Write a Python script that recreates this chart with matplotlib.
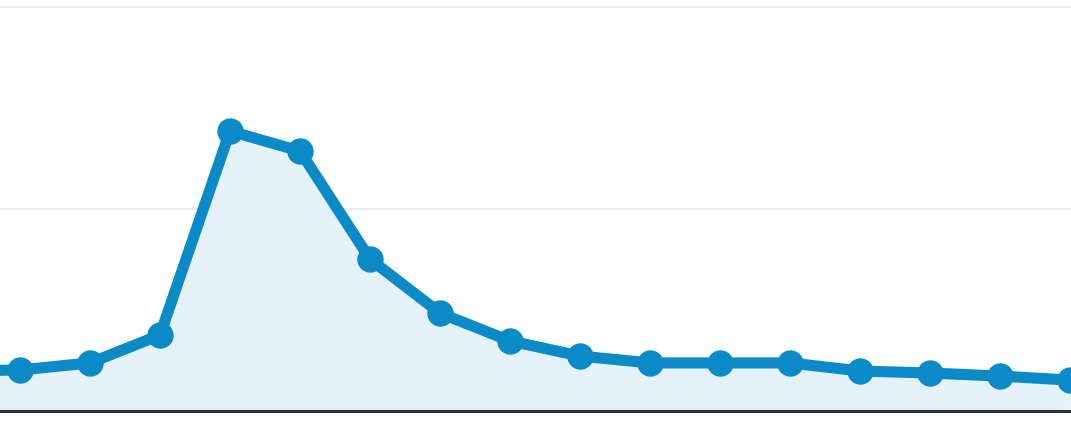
import matplotlib.pyplot as plt
import numpy as np

# data (first point sits just outside the left edge)
idx = np.arange(-1, 16)
visits = [19.8, 20.3, 23.8, 37.6, 138.6, 128.7, 75.2, 48.5, 34.7, 27.2,
          23.8, 23.8, 23.8, 19.8, 18.8, 17.3, 15.3]
grid_vals = [100, 200]

line_col = "#0a8bc8"
fill_col = "#e5f2f9"

fig = plt.figure(figsize=(10.71, 4.23), dpi=100)
ax = fig.add_axes([0, 0, 1, 1])

for g in grid_vals:
    ax.axhline(g, color="#ececec", lw=1.6, zorder=0)

ax.fill_between(idx, visits, 0, color=fill_col, zorder=1)
ax.plot(idx, visits, color=line_col, lw=8, marker="o", ms=18,
        solid_joinstyle="miter", zorder=3)
ax.axhline(0, color="#2c3338", lw=2.2, zorder=4)

ax.set_xlim(-20 / 70, 1051 / 70)
ax.set_ylim(-5.94, 203.5)
ax.axis("off")

fig.savefig("out.png", dpi=100)
